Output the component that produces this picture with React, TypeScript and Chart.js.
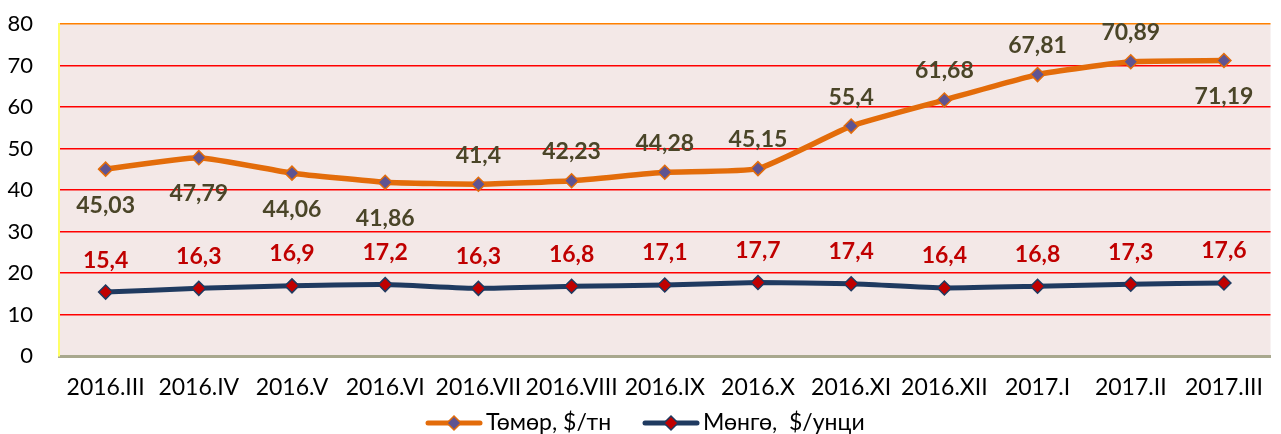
import React, { useEffect, useRef } from "react";
import { Chart, registerables } from "chart.js";

Chart.register(...registerables);

const categories = [
  "2016.III", "2016.IV", "2016.V", "2016.VI", "2016.VII", "2016.VIII", "2016.IX",
  "2016.X", "2016.XI", "2016.XII", "2017.I", "2017.II", "2017.III",
];
const ironValues = [45.03, 47.79, 44.06, 41.86, 41.4, 42.23, 44.28, 45.15, 55.4, 61.68, 67.81, 70.89, 71.19];
const silverValues = [15.4, 16.3, 16.9, 17.2, 16.3, 16.8, 17.1, 17.7, 17.4, 16.4, 16.8, 17.3, 17.6];
const ironLabelPos = ["below", "below", "below", "below", "above", "above", "above", "above", "above", "above", "above", "above", "below"];
const seriesNames = ["Төмөр, $/тн", "Мөнгө,  $/унци"];
const yTicks = [0, 10, 20, 30, 40, 50, 60, 70, 80];

const FONT = "Lato, 'Open Sans', sans-serif";
const IRON_LINE = "#E36C0A";
const IRON_POINT = "#5F5492";
const SILVER_LINE = "#1F3A60";
const SILVER_POINT = "#C00000";
const IRON_LABEL = "#4A4528";
const SILVER_LABEL = "#C00000";

const fmt = (v: number) => String(v).replace(".", ",");

const bgPlugin = {
  id: "plotBg",
  beforeDraw(chart: any) {
    const { ctx, chartArea } = chart;
    ctx.save();
    ctx.fillStyle = "#F3E8E7";
    ctx.fillRect(chartArea.left, chartArea.top, chartArea.right - chartArea.left, chartArea.bottom - chartArea.top);
    ctx.restore();
  },
};

const labelPlugin = {
  id: "valueLabels",
  afterDatasetsDraw(chart: any) {
    const { ctx } = chart;
    ctx.save();
    ctx.font = `bold 23px ${FONT}`;
    ctx.textAlign = "center";
    ctx.textBaseline = "middle";
    const m0 = chart.getDatasetMeta(0);
    m0.data.forEach((pt: any, i: number) => {
      const dy = ironLabelPos[i] === "below" ? 36 : -29;
      ctx.fillStyle = IRON_LABEL;
      ctx.fillText(fmt(ironValues[i]), pt.x, pt.y + dy);
    });
    const m1 = chart.getDatasetMeta(1);
    m1.data.forEach((pt: any, i: number) => {
      ctx.fillStyle = SILVER_LABEL;
      ctx.fillText(fmt(silverValues[i]), pt.x, pt.y - 32);
    });
    ctx.restore();
  },
};

const legendPlugin = {
  id: "customLegend",
  afterDraw(chart: any) {
    const { ctx } = chart;
    const y = 423;
    const items = [
      { x: 428, line: IRON_LINE, fill: IRON_POINT, border: IRON_LINE, text: seriesNames[0] },
      { x: 645, line: SILVER_LINE, fill: SILVER_POINT, border: SILVER_LINE, text: seriesNames[1] },
    ];
    ctx.save();
    ctx.font = `23px ${FONT}`;
    ctx.textBaseline = "middle";
    ctx.textAlign = "left";
    items.forEach((it) => {
      ctx.strokeStyle = it.line;
      ctx.lineWidth = 5;
      ctx.lineCap = "round";
      ctx.beginPath();
      ctx.moveTo(it.x, y);
      ctx.lineTo(it.x + 52, y);
      ctx.stroke();
      const cx = it.x + 26;
      const r = 7;
      ctx.beginPath();
      ctx.moveTo(cx, y - r);
      ctx.lineTo(cx + r, y);
      ctx.lineTo(cx, y + r);
      ctx.lineTo(cx - r, y);
      ctx.closePath();
      ctx.fillStyle = it.fill;
      ctx.fill();
      ctx.lineWidth = 1.5;
      ctx.strokeStyle = it.border;
      ctx.stroke();
      ctx.fillStyle = "#000000";
      ctx.fillText(it.text, it.x + 58, y);
    });
    ctx.restore();
  },
};

export default function App() {
  const ref = useRef<HTMLCanvasElement | null>(null);
  useEffect(() => {
    if (!ref.current) return;
    const chart = new Chart(ref.current, {
      type: "line",
      data: {
        labels: categories,
        datasets: [
          {
            label: seriesNames[0],
            data: ironValues,
            borderColor: IRON_LINE,
            borderWidth: 5.5,
            backgroundColor: IRON_POINT,
            pointStyle: "rectRot",
            pointRadius: 7,
            pointBorderWidth: 1.5,
            pointBorderColor: IRON_LINE,
            pointBackgroundColor: IRON_POINT,
            tension: 0.15,
          },
          {
            label: seriesNames[1],
            data: silverValues,
            borderColor: SILVER_LINE,
            borderWidth: 5,
            backgroundColor: SILVER_POINT,
            pointStyle: "rectRot",
            pointRadius: 7,
            pointBorderWidth: 1.5,
            pointBorderColor: SILVER_LINE,
            pointBackgroundColor: SILVER_POINT,
            tension: 0.15,
          },
        ],
      },
      options: {
        responsive: false,
        animation: false,
        devicePixelRatio: 1,
        layout: { autoPadding: false, padding: { top: 24, right: 0, bottom: 0, left: 0 } },
        plugins: {
          legend: { display: false },
          tooltip: { enabled: false },
        },
        scales: {
          x: {
            offset: true,
            grid: { display: false, drawTicks: false },
            border: { display: true, color: "#A8A88E", width: 3 },
            ticks: { color: "#000000", font: { family: FONT, size: 23 }, padding: 18, maxRotation: 0, autoSkip: false },
            afterFit(scale: any) { scale.height = 78; },
          },
          y: {
            min: 0,
            max: 80,
            afterBuildTicks(scale: any) { scale.ticks = yTicks.map((v) => ({ value: v })); },
            grid: {
              drawTicks: true,
              tickLength: 26,
              tickColor: "rgba(0,0,0,0)",
              lineWidth: 1.5,
              color: (c: any) => (c.tick && c.tick.value === 80 ? "#FF8000" : c.tick && c.tick.value === 0 ? "rgba(0,0,0,0)" : "#FF0000"),
            },
            border: { display: true, color: "#FFFF66", width: 2 },
            ticks: { color: "#000000", font: { family: FONT, size: 22 }, padding: 0 },
            afterFit(scale: any) { scale.width = 59; },
          },
        },
      },
      plugins: [bgPlugin, labelPlugin, legendPlugin],
    });
    return () => chart.destroy();
  }, []);
  return (
    <div style={{ position: "fixed", left: 0, top: 0, width: 1281, height: 434 }}>
      <canvas ref={ref} width={1281} height={434} />
    </div>
  );
}
